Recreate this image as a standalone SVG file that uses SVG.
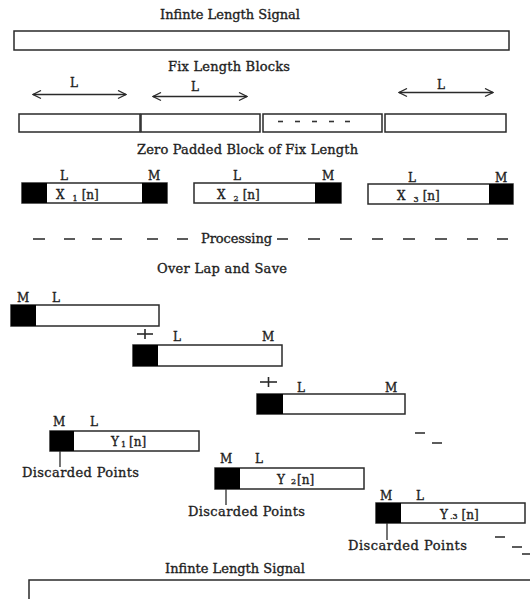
<svg xmlns="http://www.w3.org/2000/svg" width="530" height="599" viewBox="0 0 530 599">
<style>
  text { font-family: "DejaVu Serif", "Liberation Serif", serif; fill: #1e1e1e; stroke: #1e1e1e; stroke-width: 0.35; }
  .t { font-size: 13px; }
  .s { font-size: 12px; }
  .sub { font-size: 8px; }
  .box { fill: #fff; stroke: #2a2a2a; stroke-width: 1.5; }
  .blk { fill: #000; }
  .ln { stroke: #2a2a2a; stroke-width: 1.3; fill: none; }
  .pl { stroke: #2a2a2a; stroke-width: 1.6; fill: none; }
  .dash { stroke: #333; stroke-width: 1.6; }
</style>
<defs>
  <marker id="ah" viewBox="0 0 10 10" refX="9" refY="5" markerWidth="10" markerHeight="10" markerUnits="userSpaceOnUse" orient="auto-start-reverse">
    <path d="M1,1 L9,5 L1,9" fill="none" stroke="#2a2a2a" stroke-width="1.3"/>
  </marker>
</defs>
<rect width="530" height="599" fill="#fff"/>

<g id="title-top"><text class="t" x="160" y="19" textLength="140">Infinte Length Signal</text></g>
<g id="signal-top"><rect class="box" x="14" y="31" width="495" height="19"/></g>

<g id="title-fix"><text class="t" x="168" y="71" textLength="122">Fix Length Blocks</text></g>
<g id="fix-blocks">
  <rect class="box" x="19" y="114" width="121" height="18"/>
  <rect class="box" x="141" y="114" width="119" height="18"/>
  <rect class="box" x="263" y="114" width="119" height="18"/>
  <rect class="box" x="385" y="114" width="121" height="18"/>
  <g class="dash">
    <line x1="278" y1="121.5" x2="283" y2="121.5"/>
    <line x1="295" y1="121.5" x2="300" y2="121.5"/>
    <line x1="312" y1="121.5" x2="317" y2="121.5"/>
    <line x1="329" y1="121.5" x2="334" y2="121.5"/>
    <line x1="345" y1="121.5" x2="350" y2="121.5"/>
  </g>
  <text class="s" x="70" y="87">L</text>
  <text class="s" x="191" y="91">L</text>
  <text class="s" x="437" y="89">L</text>
</g>

<g id="title-zero"><text class="t" x="137" y="154" textLength="221">Zero Padded Block of Fix Length</text></g>
<g id="block-x1">
  <rect class="box" x="22" y="183" width="145" height="20"/>
  <rect class="blk" x="22" y="183" width="25" height="20"/>
  <rect class="blk" x="142" y="183" width="25" height="20"/>
  <text class="s" x="60" y="180">L</text>
  <text class="s" x="148" y="180">M</text>
  <text class="s" x="56" y="199">X<tspan class="sub" dx="8" dy="2">1</tspan><tspan dx="4" dy="-2">[n]</tspan></text>
</g>
<g id="block-x2">
  <rect class="box" x="194" y="183" width="147" height="20"/>
  <rect class="blk" x="315" y="183" width="26" height="20"/>
  <text class="s" x="233" y="180">L</text>
  <text class="s" x="322" y="180">M</text>
  <text class="s" x="217" y="199">X<tspan class="sub" dx="8" dy="2">2</tspan><tspan dx="4" dy="-2">[n]</tspan></text>
</g>
<g id="block-x3">
  <rect class="box" x="368" y="184" width="145" height="20"/>
  <rect class="blk" x="489" y="184" width="24" height="20"/>
  <text class="s" x="408" y="182">L</text>
  <text class="s" x="495" y="182">M</text>
  <text class="s" x="397" y="200">X<tspan class="sub" dx="8" dy="2">3</tspan><tspan dx="4" dy="-2">[n]</tspan></text>
</g>

<g id="processing">
  <g class="dash">
    <line x1="33" y1="239" x2="45" y2="239"/>
    <line x1="64" y1="239" x2="75" y2="239"/>
    <line x1="92" y1="239" x2="102" y2="239"/>
    <line x1="110" y1="239" x2="122" y2="239"/>
    <line x1="147" y1="239" x2="158" y2="239"/>
    <line x1="177" y1="239" x2="188" y2="239"/>
    <line x1="277" y1="239" x2="288" y2="239"/>
    <line x1="308" y1="239" x2="320" y2="239"/>
    <line x1="340" y1="239" x2="352" y2="239"/>
    <line x1="372" y1="239" x2="383" y2="239"/>
    <line x1="403" y1="239" x2="415" y2="239"/>
    <line x1="435" y1="239" x2="447" y2="239"/>
    <line x1="467" y1="239" x2="478" y2="239"/>
    <line x1="497" y1="239" x2="508" y2="239"/>
  </g>
  <text class="t" x="201" y="243" textLength="71">Processing</text>
</g>

<g id="title-overlap"><text class="t" x="157" y="273" textLength="130">Over Lap and Save</text></g>
<g id="ov-block1">
  <rect class="box" x="11" y="305" width="148" height="21"/>
  <rect class="blk" x="11" y="305" width="25" height="21"/>
  <text class="s" x="17" y="302">M</text>
  <text class="s" x="52" y="302">L</text>
</g>
<g id="ov-block2">
  <rect class="box" x="133" y="345" width="149" height="21"/>
  <rect class="blk" x="133" y="345" width="25" height="21"/>
  <line class="pl" x1="137" y1="334" x2="153" y2="334"/>
  <line class="pl" x1="145" y1="329" x2="145" y2="339"/>
  <text class="s" x="173" y="341">L</text>
  <text class="s" x="262" y="341">M</text>
</g>
<g id="ov-block3">
  <rect class="box" x="257" y="394" width="148" height="20"/>
  <rect class="blk" x="257" y="394" width="26" height="20"/>
  <line class="pl" x1="260" y1="382" x2="277" y2="382"/>
  <line class="pl" x1="268.5" y1="377" x2="268.5" y2="387"/>
  <text class="s" x="297" y="392">L</text>
  <text class="s" x="385" y="392">M</text>
  <g class="dash">
    <line x1="415" y1="433" x2="425" y2="433"/>
    <line x1="432" y1="443" x2="442" y2="443"/>
  </g>
</g>

<g id="out-y1">
  <rect class="box" x="50" y="431" width="149" height="20"/>
  <rect class="blk" x="50" y="431" width="24" height="20"/>
  <text class="s" x="53" y="426">M</text>
  <text class="s" x="90" y="426">L</text>
  <text class="s" x="111" y="446">Y<tspan class="sub" dx="2" dy="1">1</tspan><tspan dx="3" dy="-1">[n]</tspan></text>
  <text class="t" x="22" y="477" textLength="117">Discarded Points</text>
</g>
<g id="out-y2">
  <rect class="box" x="215" y="468" width="149" height="21"/>
  <rect class="blk" x="215" y="468" width="25" height="21"/>
  <text class="s" x="220" y="463">M</text>
  <text class="s" x="255" y="463">L</text>
  <text class="s" x="277" y="484">Y<tspan class="sub" dx="6" dy="0">2</tspan><tspan dx="1">[n]</tspan></text>
  <text class="t" x="188" y="516" textLength="117">Discarded Points</text>
</g>
<g id="out-y3">
  <rect class="box" x="376" y="503" width="149" height="20"/>
  <rect class="blk" x="376" y="503" width="25" height="20"/>
  <text class="s" x="380" y="500">M</text>
  <text class="s" x="416" y="500">L</text>
  <text class="s" x="440" y="519">Y<tspan class="sub" dx="2" dy="0">.3</tspan><tspan dx="4">[n]</tspan></text>
  <text class="t" x="348" y="550" textLength="119">Discarded Points</text>
  <g class="dash">
    <line x1="495" y1="537" x2="505" y2="537"/>
    <line x1="512" y1="547" x2="522" y2="547"/>
    <line x1="522" y1="554" x2="530" y2="554"/>
  </g>
</g>

<g id="title-bottom"><text class="t" x="165" y="573" textLength="140">Infinte Length Signal</text></g>
<g id="signal-bottom"><rect class="box" x="29" y="580" width="510" height="30"/></g>

<g id="connectors">
  <line class="ln" x1="33" y1="94.5" x2="126" y2="94.5" marker-start="url(#ah)" marker-end="url(#ah)"/>
  <line class="ln" x1="153" y1="96.5" x2="247" y2="96.5" marker-start="url(#ah)" marker-end="url(#ah)"/>
  <line class="ln" x1="399" y1="92.5" x2="493" y2="92.5" marker-start="url(#ah)" marker-end="url(#ah)"/>
  <line class="ln" x1="60" y1="451" x2="60" y2="467"/>
  <line class="ln" x1="226" y1="489" x2="226" y2="505"/>
  <line class="ln" x1="387" y1="523" x2="387" y2="540"/>
</g>
</svg>
